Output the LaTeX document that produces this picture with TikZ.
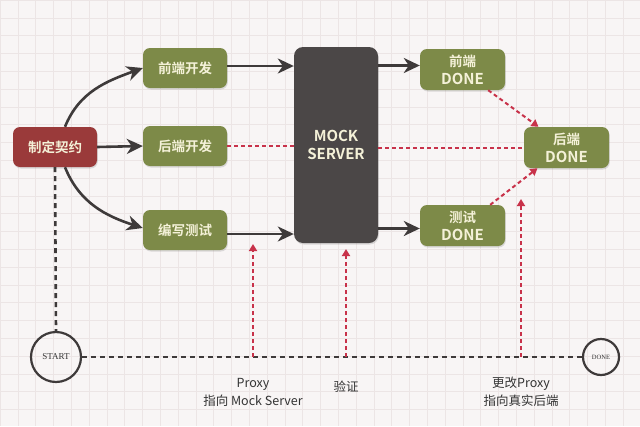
\documentclass[tikz,border=0pt]{standalone}
\usepackage{fontspec}
\setmainfont{Noto Sans CJK SC}[BoldFont={Noto Sans CJK SC Bold}]
\newfontfamily\serifcirc{Liberation Serif}
\usetikzlibrary{arrows.meta,shadows,calc}
\definecolor{bgc}{HTML}{F8F5F5}
\definecolor{gridc}{HTML}{ECE5E5}
\definecolor{redbox}{HTML}{9A3A3A}
\definecolor{greenbox}{HTML}{7D8A48}
\definecolor{graybox}{HTML}{4B4747}
\definecolor{cream}{HTML}{F4F1D8}
\definecolor{darkline}{HTML}{3E3A3A}
\definecolor{reddash}{HTML}{C8324A}
\definecolor{labelc}{HTML}{333333}
\newcommand{\latinbig}[1]{{\fontsize{15}{18}\selectfont #1}}
\tikzset{
  x=1pt, y=1pt,
  boxbase/.style={rounded corners=7pt, minimum width=84pt, minimum height=40pt, inner sep=0pt,
    text=cream, font=\bfseries\fontsize{13.5}{18}\selectfont, align=center,
    drop shadow={shadow xshift=0.8pt, shadow yshift=-1.5pt, opacity=0.25}},
  redstep/.style={boxbase, fill=redbox},
  greenstep/.style={boxbase, fill=greenbox},
  mockbox/.style={boxbase, fill=graybox, minimum height=196pt, rounded corners=9pt},
  circnode/.style={circle, draw=darkline, line width=2.2pt, inner sep=0pt, text=labelc},
  darkarr/.style={draw=darkline, line width=2.6pt, -{Stealth[length=16pt,width=15pt,inset=5pt]}},
  darkdash/.style={draw=darkline, line width=2.6pt, dash pattern=on 5pt off 4pt},
  reddashline/.style={draw=reddash, line width=2pt, dash pattern=on 4pt off 3pt},
  redarr/.style={reddashline, -{Triangle[length=7pt,width=8pt]}},
  lbl/.style={text=labelc, font=\fontsize{12.5}{18}\selectfont, align=center, inner sep=0pt}
}
\begin{document}
\begin{tikzpicture}
\fill[bgc] (0,0) rectangle (640,-426);
\useasboundingbox (0,0) rectangle (640,-426);
\begin{scope}
\clip (0,0) rectangle (640,-426);
\foreach \i in {0,...,36} {\draw[gridc, line width=0.6pt] (\i*17.8,0) -- (\i*17.8,-426);}
\foreach \j in {0,...,24} {\draw[gridc, line width=0.6pt] (0,-\j*17.8) -- (640,-\j*17.8);}
\end{scope}

% nodes
\node[redstep] (contract) at (55,-147) {制定契约};
\node[greenstep] (fedev) at (185,-68) {前端开发};
\node[greenstep] (bedev) at (185,-146) {后端开发};
\node[greenstep] (testw) at (185,-230) {编写测试};
\node[mockbox] (mock) at (336,-145) {\latinbig{MOCK}\\\latinbig{SERVER}};
\node[greenstep, minimum width=85pt, minimum height=41pt] (fedone) at (462.5,-69.5) {前端\\\latinbig{DONE}};
\node[greenstep, minimum width=85pt, minimum height=41pt] (bedone) at (566.5,-147.5) {后端\\\latinbig{DONE}};
\node[greenstep, minimum width=85pt, minimum height=41pt] (testdone) at (462.5,-225.5) {测试\\\latinbig{DONE}};
\node[circnode, minimum size=50pt, font=\serifcirc\fontsize{9}{9}\selectfont] (start) at (56,-357) {START};
\node[circnode, minimum size=36pt, font=\serifcirc\fontsize{6.5}{7}\selectfont] (done) at (601,-357) {DONE};

% labels
\node[lbl] (proxylbl) at (253,-392) {Proxy\\指向 Mock Server};
\node[lbl] (verify) at (346,-387) {验证};
\node[lbl] (changelbl) at (521,-392) {更改Proxy\\指向真实后端};

% coordinates on the timeline
\coordinate (p1) at (253,-357);
\coordinate (p2) at (346,-357);
\coordinate (p3) at (521,-357);
\coordinate (t1) at (253,-244);
\coordinate (t2) at (346,-249);
\coordinate (t3) at (521,-199);

% dark dashed timeline
\draw[darkdash] (contract.south) -- (start.north);
\draw[darkdash] (start.east) -- (done.west);

% red dashed
\draw[reddashline] (bedev.east) -- (bedev.east -| mock.west);
\draw[reddashline] (mock.east |- bedone.west) -- (bedone.west);
\draw[redarr] ([xshift=-17pt]fedone.south east) -- ([xshift=-28pt]bedone.north);
\draw[redarr] ([xshift=-15pt]testdone.north east) -- ([xshift=-29pt]bedone.south);
\draw[redarr] (p1) -- (t1);
\draw[redarr] (p2) -- (t2);
\draw[redarr] (p3) -- (t3);

% dark arrows
\draw[darkarr] ([xshift=10pt]contract.north) to[out=68, in=200] (fedev.west);
\draw[darkarr] (contract.east) -- (bedev.west);
\draw[darkarr] ([xshift=10pt]contract.south) to[out=-68, in=162] ([yshift=2pt]testw.west);
\draw[darkarr] ([yshift=2pt]fedev.east) -- ([yshift=2pt]fedev.east -| mock.west);
\draw[darkarr] ([yshift=-4pt]testw.east) -- ([yshift=-4pt]testw.east -| mock.west);
\draw[darkarr] ([yshift=4pt]mock.east |- fedone.west) -- ([yshift=4pt]fedone.west);
\draw[darkarr] ([yshift=-3pt]mock.east |- testdone.west) -- ([yshift=-3pt]testdone.west);
\end{tikzpicture}
\end{document}
